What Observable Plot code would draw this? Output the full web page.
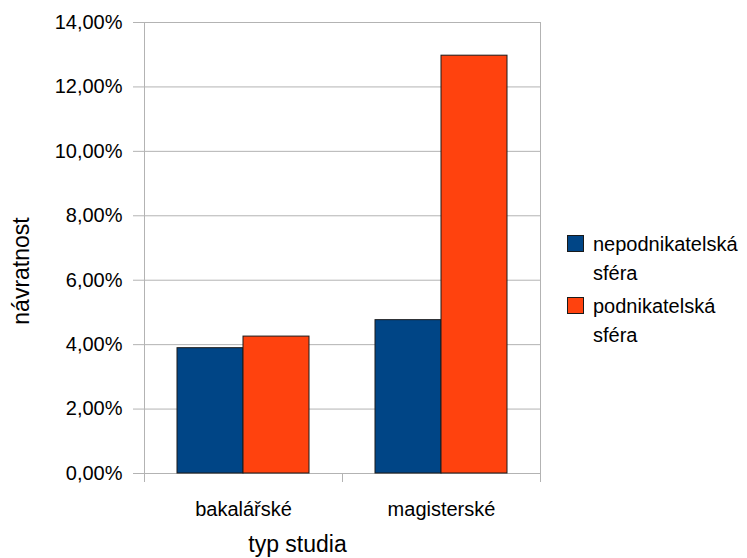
<!DOCTYPE html>
<html>
<head>
<meta charset="utf-8">
<script src="https://cdn.jsdelivr.net/npm/d3@7"></script>
<script src="https://cdn.jsdelivr.net/npm/@observablehq/plot@0.6"></script>
<style>
  body { margin: 0; background: #fff; font-family: "Liberation Sans", Arial, sans-serif; }
  #wrap { position: relative; width: 747px; height: 558px; overflow: hidden; }
  #legend { position: absolute; left: 567px; top: 230px; font-size: 20px; line-height: 29px; color: #000; white-space: nowrap; }
  .item { position: relative; padding-left: 26px; margin-bottom: 4px; }
  .sw { position: absolute; left: 0; top: 5px; width: 17px; height: 17px; border: 1px solid #1a1a1a; box-sizing: border-box; }
</style>
</head>
<body>
<div id="wrap"></div>
<script>
const categories = ["bakalářské", "magisterské"];
const seriesNames = ["nepodnikatelská sféra", "podnikatelská sféra"];
const nepodnikatelska = [0.0389, 0.0476];
const podnikatelska = [0.0425, 0.1297];
const yTicks = [0, 0.02, 0.04, 0.06, 0.08, 0.10, 0.12, 0.14];
const colors = ["#004586", "#ff420e"];

const W = 747, H = 558, mL = 144, mR = 207, mT = 22, mB = 85;
const padIn = 1/3, padOut = 1/6;
const step = (W - mL - mR) / (categories.length - padIn + 2 * padOut);
const bw = step * (1 - padIn);

const data1 = categories.map((c, i) => ({category: c, value: nepodnikatelska[i], series: seriesNames[0]}));
const data2 = categories.map((c, i) => ({category: c, value: podnikatelska[i], series: seriesNames[1]}));
const fmt = d => (d * 100).toFixed(2).replace(".", ",") + "%";

const chart = Plot.plot({
  width: W, height: H,
  marginLeft: mL, marginRight: mR, marginTop: mT, marginBottom: mB,
  style: {fontFamily: "Liberation Sans, Arial, sans-serif", fontSize: "20px", background: "#fff", color: "#000", overflow: "visible"},
  x: {domain: categories, paddingInner: padIn, paddingOuter: padOut, label: null},
  y: {domain: [0, 0.14], label: null},
  color: {domain: seriesNames, range: colors},
  marks: [
    Plot.ruleY(yTicks, {y: d => d, stroke: "#b3b3b3", strokeWidth: 1}),
    Plot.frame({stroke: "#b3b3b3"}),
    Plot.ruleX(categories, {x: d => d, y1: 0, y2: 0, insetBottom: -9, dx: -step / 2, stroke: "#b3b3b3"}),
    Plot.ruleX(categories.slice(-1), {x: d => d, y1: 0, y2: 0, insetBottom: -9, dx: step / 2, stroke: "#b3b3b3"}),
    Plot.barY(data1, {x: "category", y: "value", fill: "series", insetRight: bw / 2, stroke: "#1a1a1a", strokeWidth: 1}),
    Plot.barY(data2, {x: "category", y: "value", fill: "series", insetLeft: bw / 2, stroke: "#1a1a1a", strokeWidth: 1}),
    Plot.axisY({ticks: yTicks, tickFormat: fmt, tickSize: 11, tickPadding: 11, stroke: "#b3b3b3", fill: "#000", label: null, fontSize: 20}),
    Plot.axisX({tickSize: 0, tickPadding: 28, fill: "#000", label: null, fontSize: 20}),
    Plot.text(["návratnost"], {frameAnchor: "left", textAnchor: "middle", lineAnchor: "middle", dx: -123, dy: 23, rotate: -90, fontSize: 23, fill: "#000"}),
    Plot.text(["typ studia"], {frameAnchor: "bottom", dx: -45, dy: 78, fontSize: 23, fill: "#000"})
  ]
});
document.getElementById("wrap").appendChild(chart);

const legend = document.createElement("div");
legend.id = "legend";
seriesNames.forEach((name, i) => {
  const item = document.createElement("div");
  item.className = "item";
  const sw = document.createElement("span");
  sw.className = "sw";
  sw.style.background = colors[i];
  item.appendChild(sw);
  const parts = name.split(" ");
  item.appendChild(document.createTextNode(parts[0]));
  item.appendChild(document.createElement("br"));
  item.appendChild(document.createTextNode(parts.slice(1).join(" ")));
  legend.appendChild(item);
});
document.getElementById("wrap").appendChild(legend);
</script>
</body>
</html>
